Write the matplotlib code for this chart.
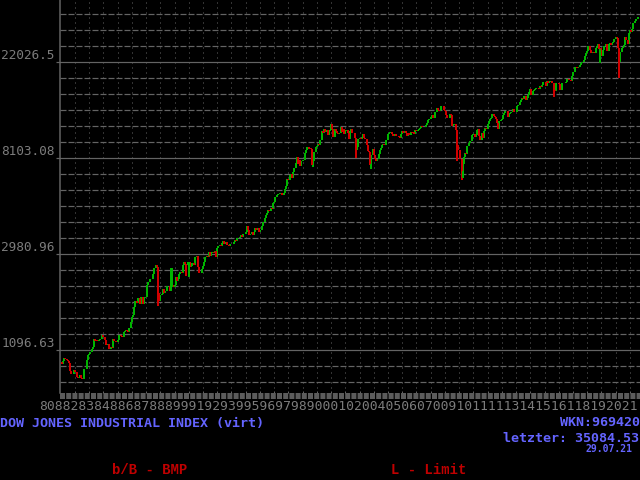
import numpy as np
import matplotlib
matplotlib.use("Agg")
import matplotlib.pyplot as plt
from matplotlib.lines import Line2D
from matplotlib.ticker import NullLocator

plt.rcParams["lines.scale_dashes"] = False

# Dow Jones monthly closes (Jan 1981 - Jul 2021)
start_close = 964
closes_80s = [947, 974, 1004, 998, 992, 977, 953, 882, 850, 853, 889, 875,
              871, 824, 823, 848, 820, 812, 809, 901, 896, 992, 1039, 1047,
              1076, 1113, 1130, 1226, 1200, 1222, 1199, 1216, 1233, 1225, 1276, 1259,
              1221, 1155, 1165, 1171, 1105, 1132, 1115, 1224, 1207, 1207, 1189, 1212,
              1287, 1284, 1267, 1258, 1316, 1336, 1348, 1334, 1329, 1375, 1472, 1547,
              1571, 1709, 1819, 1784, 1877, 1893, 1775, 1898, 1768, 1878, 1914, 1896,
              2158, 2224, 2305, 2286, 2292, 2419, 2572, 2663, 2596, 1994, 1834, 1939,
              1958, 2072, 1988, 2032, 2031, 2142, 2129, 2032, 2113, 2149, 2115, 2169,
              2342, 2258, 2294, 2419, 2480, 2440, 2661, 2737, 2693, 2645, 2748, 2753]
closes_90s = [2591, 2627, 2707, 2657, 2877, 2881, 2905, 2614, 2453, 2442, 2560, 2634,
              2736, 2882, 2914, 2888, 3028, 2907, 3025, 3044, 3017, 3069, 2895, 3169,
              3224, 3267, 3236, 3359, 3397, 3319, 3394, 3257, 3272, 3226, 3305, 3301,
              3310, 3371, 3435, 3428, 3527, 3516, 3540, 3651, 3555, 3681, 3684, 3754,
              3978, 3832, 3636, 3682, 3758, 3625, 3765, 3913, 3843, 3908, 3739, 3834,
              3844, 4011, 4158, 4321, 4465, 4556, 4709, 4647, 4789, 4756, 5075, 5117,
              5395, 5486, 5588, 5569, 5643, 5655, 5529, 5616, 5882, 6029, 6522, 6448,
              6813, 6878, 6584, 7009, 7331, 7673, 8223, 7622, 7945, 7442, 7823, 7908,
              7907, 8546, 8800, 9063, 8900, 8952, 8883, 7539, 7843, 8592, 9117, 9181,
              9359, 9307, 9786, 10789, 10560, 10971, 10655, 10829, 10337, 10729, 10878, 11497]
closes_00s = [10941, 10128, 10922, 10734, 10522, 10448, 10522, 11215, 10651, 10971, 10415, 10787,
              10887, 10495, 9879, 10735, 10912, 10502, 10523, 9950, 8848, 9075, 9852, 10022,
              9920, 10106, 10404, 9946, 9925, 9243, 8737, 8664, 7592, 8397, 8896, 8342,
              8054, 7891, 7992, 8480, 8850, 8985, 9234, 9416, 9275, 9801, 9782, 10454,
              10488, 10584, 10358, 10226, 10188, 10435, 10140, 10174, 10080, 10027, 10428, 10783,
              10490, 10766, 10504, 10193, 10467, 10275, 10641, 10482, 10569, 10440, 10806, 10718,
              10865, 10993, 11109, 11367, 11168, 11150, 11186, 11381, 11679, 12081, 12222, 12463,
              12622, 12269, 12354, 13063, 13628, 13409, 13212, 13358, 13896, 13930, 13372, 13265,
              12650, 12266, 12263, 12820, 12638, 11350, 11378, 11544, 10851, 9325, 8829, 8776,
              8001, 7063, 7609, 8168, 8500, 8447, 9172, 9496, 9712, 9713, 10345, 10428]
closes_10s = [10067, 10325, 10857, 11009, 10137, 9774, 10466, 10015, 10788, 11118, 11006, 11578,
              11892, 12226, 12320, 12811, 12570, 12414, 12143, 11614, 10913, 11955, 12046, 12218,
              12633, 12952, 13212, 13214, 12393, 12880, 13009, 13091, 13437, 13096, 13026, 13104,
              13861, 14054, 14579, 14840, 15116, 14910, 15500, 14810, 15130, 15546, 16086, 16577,
              15699, 16322, 16458, 16581, 16717, 16827, 16563, 17098, 17043, 17391, 17828, 17823,
              17165, 18133, 17776, 17841, 18011, 17620, 17690, 16528, 16285, 17664, 17720, 17425,
              16466, 16517, 17685, 17774, 17787, 17930, 18432, 18401, 18308, 18142, 19124, 19763,
              19864, 20812, 20663, 20941, 21009, 21350, 21891, 21948, 22405, 23377, 24272, 24719,
              26149, 25029, 24103, 24163, 24416, 24271, 25415, 25965, 26458, 25116, 25538, 23327,
              24999, 25916, 25929, 26593, 24815, 26600, 26864, 26403, 26917, 27046, 28051, 28538]
closes_20s = [28256, 25409, 21917, 24346, 25383, 25813, 26428, 28430, 27782, 26502, 29639, 30606,
              29983, 30932, 32982, 33875, 34529, 34503, 35084]

# intramonth lows where the chart shows long wicks (month index from Jan 1981)
wick_months = [81, 92, 93, 105, 107, 212, 248, 260, 261, 333, 337, 338, 415, 454, 470]
wick_lows = [1739, 2569, 2580, 2365, 2344, 7400, 8062, 7532, 7197, 7882, 6470, 6547, 15370, 21712, 18592]

xlabels_row = "8088283848868788899919293995969798900010200405060700910111113141516118192021"
title = "DOW JONES INDUSTRIAL INDEX (virt)"
wkn = "WKN:969420"
last = "letzter: 35084.53"
date = "29.07.21"

closes = np.array(closes_80s + closes_90s + closes_00s + closes_10s + closes_20s, float)
opens = np.concatenate([[start_close], closes[:-1]])
t = 1981 + (np.arange(len(closes)) + 1) / 12.0
up = closes >= opens

GRAY = "#646464"
TXT = "#7c7c7c"
GREEN = "#00b400"
RED = "#d00000"
BLUE = "#6464ff"
px = 0.72  # one pixel in points at 100 dpi

fig = plt.figure(figsize=(6.4, 4.8), dpi=100, facecolor="black")
ax = fig.add_axes([60 / 640, 87 / 480, 580 / 640, 393 / 480], facecolor="black")
ax.set_yscale("log", base=np.e)
lo, hi = 6.5521, 10.6458
ax.set_ylim(np.exp(lo), np.exp(hi))
ax.set_xlim(1980.95, 2021.71)

# horizontal grid every 1/6 of a log unit, solid on whole log units
for j in range(int(np.ceil(lo * 6)), int(np.floor(hi * 6)) + 1):
    if j % 6 == 0:
        ax.axhline(np.exp(j / 6), color=GRAY, lw=1.2 * px, zorder=1)
    else:
        ax.axhline(np.exp(j / 6), color=GRAY, lw=1.2 * px, ls=(0, (6 * px, 2 * px)), zorder=1)

years = np.arange(1982, 2022)
for yr in years:
    ax.axvline(yr, color=GRAY, lw=1 * px, ls=(0, (1 * px, 4 * px)), zorder=1)

# candles
ax.vlines(t[up], opens[up], closes[up], color=GREEN, lw=2 * px, zorder=3)
ax.vlines(t[~up], opens[~up], closes[~up], color=RED, lw=2 * px, zorder=3)
for m, low in zip(wick_months, wick_lows):
    c = GREEN if up[m] else RED
    ax.vlines(t[m], low, min(opens[m], closes[m]), color=c, lw=2 * px, zorder=3)

for s in ["top", "right", "bottom"]:
    ax.spines[s].set_visible(False)
ax.spines["left"].set_color(GRAY)
ax.spines["left"].set_linewidth(1.5 * px)

yt = np.exp([7, 8, 9, 10])
ax.set_yticks(yt)
ax.set_yticklabels(["%g" % v for v in yt], fontfamily="DejaVu Sans Mono", fontsize=9.2, color=TXT)
ax.yaxis.set_minor_locator(NullLocator())
for lb in ax.get_yticklabels():
    lb.set_va("bottom")
ax.tick_params(axis="y", length=4 * px, width=1.2 * px, color=GRAY, pad=1)
ax.set_xticks(years)
ax.set_xticklabels([])
ax.xaxis.set_minor_locator(NullLocator())
ax.tick_params(axis="x", direction="in", length=2 * px, width=1 * px, color=GRAY)

# gray block strip under the plot
fig.add_artist(Line2D([60 / 640, 1], [1 - 396 / 480] * 2, transform=fig.transFigure,
                      color="#5c5c5c", lw=6 * px, ls=(0, (5 * px, 1.2 * px)), solid_capstyle="butt"))


def P(x, y):
    return x / 640, 1 - y / 480


fig.text(*P(39, 406), xlabels_row, color=TXT, fontfamily="DejaVu Sans Mono", fontsize=9.35,
         ha="left", va="center")
fig.text(*P(0, 423), title, color=BLUE, fontfamily="DejaVu Sans Mono", fontsize=9.6,
         fontweight="bold", ha="left", va="center")
fig.text(*P(640, 423), wkn, color=BLUE, fontfamily="DejaVu Sans Mono", fontsize=9.6,
         fontweight="bold", ha="right", va="center")
fig.text(*P(639, 439), last, color=BLUE, fontfamily="DejaVu Sans Mono", fontsize=9.6,
         fontweight="bold", ha="right", va="center")
fig.text(*P(633, 449), date, color=BLUE, fontfamily="DejaVu Sans Mono", fontsize=7,
         fontweight="bold", ha="right", va="center")
fig.text(*P(112, 470), "b/B - BMP", color="#c00000", fontfamily="Liberation Mono", fontsize=10,
         fontweight="bold", ha="left", va="center")
fig.text(*P(391, 470), "L - Limit", color="#c00000", fontfamily="Liberation Mono", fontsize=10,
         fontweight="bold", ha="left", va="center")

fig.savefig("out.png", dpi=100, facecolor="black")
